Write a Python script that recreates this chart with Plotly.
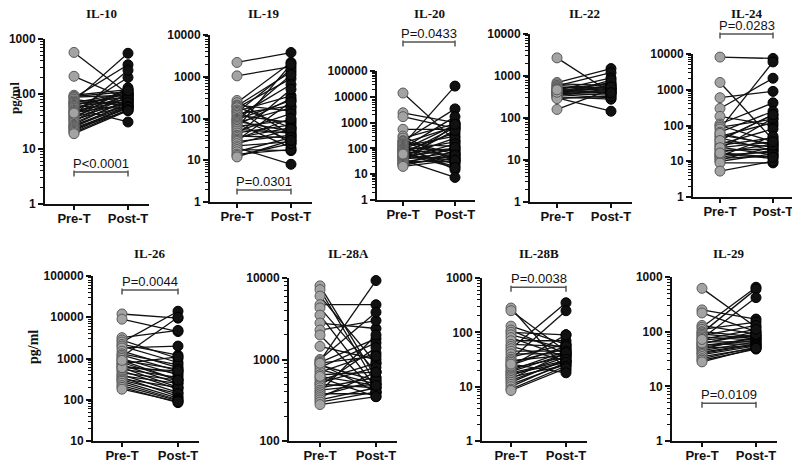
import plotly.graph_objects as go

# browser page has an 8px body margin: the figure is sized to fill the rest of the 800x461 window
PAGE_W, PAGE_H, OFF = 800, 461, 8
W, H = PAGE_W - OFF, PAGE_H - OFF

panel_names = ["IL-10", "IL-19", "IL-20", "IL-22", "IL-24", "IL-26", "IL-28A", "IL-28B", "IL-29"]
group_labels = ["Pre-T", "Post-T"]

il10_pre = [570, 210, 95, 90, 88, 85, 80, 75, 72, 70, 68, 65, 62, 60, 58, 55, 52, 50, 48, 46, 44, 42, 40, 38, 36, 35, 33, 32, 30, 28, 27, 26, 25, 24, 23, 22, 21, 20, 19, 45]
il10_post = [100, 80, 120, 110, 95, 340, 60, 550, 85, 105, 70, 90, 100, 55, 80, 31, 120, 75, 200, 65, 95, 270, 85, 70, 130, 60, 100, 90, 75, 80, 65, 60, 70, 55, 50, 60, 58, 52, 50, 115]

il19_pre = [2200, 1050, 270, 240, 210, 200, 190, 180, 160, 150, 140, 130, 120, 110, 100, 95, 90, 85, 80, 75, 70, 65, 60, 55, 50, 45, 40, 38, 35, 32, 30, 28, 25, 22, 20, 18, 16, 14, 13, 12]
il19_post = [3800, 1750, 40, 2200, 150, 1300, 60, 900, 25, 350, 1500, 200, 80, 650, 30, 270, 1100, 50, 180, 20, 300, 90, 2000, 45, 130, 70, 500, 35, 60, 100, 250, 40, 55, 28, 8, 17, 35, 18, 25, 30]

il20_pre = [14000, 2400, 1700, 550, 300, 250, 200, 190, 180, 160, 150, 140, 130, 120, 110, 100, 95, 90, 85, 80, 75, 70, 65, 60, 55, 50, 48, 45, 42, 40, 38, 35, 32, 30, 28, 26, 24, 22, 20, 60]
il20_post = [200, 1000, 600, 550, 30, 900, 60, 3400, 40, 700, 120, 26000, 15, 300, 80, 1700, 50, 800, 25, 180, 400, 20, 100, 650, 35, 250, 90, 500, 45, 150, 70, 7.5, 30, 60, 850, 40, 110, 55, 35, 18]

il22_pre = [2700, 700, 650, 600, 580, 550, 520, 500, 480, 460, 450, 430, 420, 400, 390, 380, 370, 360, 350, 340, 320, 300, 290, 160, 410, 470]
il22_post = [400, 1500, 600, 500, 1200, 450, 550, 650, 400, 900, 500, 380, 700, 450, 600, 350, 420, 300, 800, 500, 280, 145, 330, 480, 550, 400]

il24_pre = [8200, 1600, 600, 300, 180, 110, 100, 90, 80, 65, 55, 50, 45, 40, 35, 30, 28, 25, 22, 20, 18, 16, 15, 14, 13, 12, 11, 10, 9, 5.3, 60, 38, 24, 17]
il24_post = [7500, 40, 900, 2100, 100, 430, 35, 150, 6000, 250, 30, 120, 20, 200, 25, 80, 45, 15, 160, 22, 30, 12, 18, 50, 20, 14, 25, 16, 9, 10, 28, 200, 35, 13]

il26_pre = [12000, 9000, 3200, 2800, 2500, 2200, 2000, 1800, 1500, 1300, 1200, 1100, 1000, 900, 800, 750, 700, 650, 600, 550, 500, 450, 400, 380, 350, 320, 300, 280, 250, 220, 200, 180, 600, 900]
il26_post = [9500, 4500, 4800, 1000, 14000, 1200, 800, 2000, 600, 700, 500, 10000, 400, 550, 300, 1100, 250, 450, 200, 350, 180, 300, 150, 250, 120, 200, 140, 110, 100, 95, 85, 90, 500, 300]

il28a_pre = [8000, 7200, 6000, 4700, 4300, 3500, 2800, 2300, 2000, 1450, 1000, 960, 920, 880, 850, 800, 750, 700, 650, 600, 560, 520, 500, 480, 450, 420, 400, 380, 360, 340, 320, 300, 280, 900, 620]
il28a_post = [600, 500, 900, 4700, 700, 450, 2400, 3000, 400, 1000, 3800, 9300, 1800, 400, 550, 1600, 500, 1200, 700, 350, 900, 800, 450, 1400, 600, 500, 2000, 380, 550, 700, 450, 400, 350, 1100, 480]

il28b_pre = [280, 250, 130, 110, 100, 90, 80, 70, 60, 55, 50, 45, 40, 35, 32, 30, 28, 25, 22, 20, 19, 18, 17, 16, 15, 14, 13, 12, 11, 10, 9, 8.5, 24, 26]
il28b_post = [20, 45, 60, 40, 90, 50, 35, 70, 55, 30, 350, 45, 40, 60, 250, 38, 50, 55, 35, 45, 40, 30, 28, 35, 25, 42, 30, 32, 26, 28, 24, 22, 90, 18]

il29_pre = [620, 250, 220, 130, 120, 110, 100, 95, 90, 85, 80, 75, 70, 65, 60, 58, 55, 52, 50, 48, 45, 42, 40, 38, 35, 32, 30, 28, 62, 72]
il29_post = [120, 170, 100, 90, 650, 150, 80, 600, 75, 130, 70, 420, 85, 65, 100, 60, 75, 70, 55, 80, 65, 60, 58, 55, 50, 52, 48, 50, 90, 110]

pre_values = [il10_pre, il19_pre, il20_pre, il22_pre, il24_pre, il26_pre, il28a_pre, il28b_pre, il29_pre]
post_values = [il10_post, il19_post, il20_post, il22_post, il24_post, il26_post, il28a_post, il28b_post, il29_post]

p_texts = ["P<0.0001", "P=0.0301", "P=0.0433", None, "P=0.0283", "P=0.0044", None, "P=0.0038", "P=0.0109"]

# layout geometry (page pixels): axis left, pre x, post x, axis top, axis bottom, log range, bracket level (log10)
geom = [
    dict(left=45, pre=74, post=128, top=39, bottom=204, lo=0, hi=3, pb=0.58),
    dict(left=210, pre=237, post=291, top=35, bottom=202, lo=0, hi=4, pb=0.29),
    dict(left=377, pre=403, post=455, top=71, bottom=200, lo=0, hi=5, pb=6.12),
    dict(left=530, pre=557, post=611, top=34, bottom=202, lo=0, hi=4, pb=None),
    dict(left=693, pre=720, post=773, top=54, bottom=197, lo=0, hi=4, pb=4.56),
    dict(left=93, pre=122, post=178, top=276, bottom=441, lo=1, hi=5, pb=4.66),
    dict(left=289, pre=320, post=376, top=278, bottom=441, lo=2, hi=4, pb=None),
    dict(left=482, pre=511, post=566, top=278, bottom=441, lo=0, hi=3, pb=2.83),
    dict(left=672, pre=702, post=756, top=277, bottom=441, lo=0, hi=3, pb=0.69),
]
title_y_px = [13, 13, 13, 13, 13, 253, 253, 253, 253]
XR1 = 1.38


def fx(px):
    return (px - OFF) / W


def fy(py):
    return 1 - (py - OFF) / H


SANS = "Liberation Sans, Arial, sans-serif"
SERIF = "Liberation Serif, Times New Roman, serif"
INK = "#111111"
BRK = "#555555"

fig = go.Figure()
annotations = []
shapes = []
layout_axes = {}

for i, name in enumerate(panel_names):
    g = geom[i]
    n = "" if i == 0 else str(i + 1)
    xa, ya = "x" + n, "y" + n
    s = g["post"] - g["pre"]
    xr0 = -(g["pre"] - g["left"]) / s
    xd = [fx(g["left"]), min(1.0, fx(g["pre"] + XR1 * s))]
    yd = [fy(g["bottom"]), fy(g["top"])]

    pre, post = pre_values[i], post_values[i]
    lx, ly = [], []
    for a, b in zip(pre, post):
        lx += [0, 1, None]
        ly += [a, b, None]
    fig.add_trace(go.Scatter(x=lx, y=ly, mode="lines", xaxis=xa, yaxis=ya,
                             line=dict(color=INK, width=1.3), cliponaxis=False,
                             hoverinfo="skip", showlegend=False))
    fig.add_trace(go.Scatter(x=[0] * len(pre), y=pre, mode="markers", xaxis=xa, yaxis=ya,
                             marker=dict(size=10, color="#a3a3a3", line=dict(color="#5a5a5a", width=1)),
                             cliponaxis=False, showlegend=False))
    fig.add_trace(go.Scatter(x=[1] * len(post), y=post, mode="markers", xaxis=xa, yaxis=ya,
                             marker=dict(size=10, color=INK, line=dict(color="#000000", width=1)),
                             cliponaxis=False, showlegend=False))

    if p_texts[i]:
        dx0 = (0 - xr0) / (XR1 - xr0)
        dx1 = (1 - xr0) / (XR1 - xr0)
        dy = (g["pb"] - g["lo"]) / (g["hi"] - g["lo"])
        span = g["bottom"] - g["top"]
        xdr, ydr = xa + " domain", ya + " domain"
        shapes.append(dict(type="line", xref=xdr, yref=ydr, x0=dx0, x1=dx1, y0=dy, y1=dy,
                           line=dict(color=BRK, width=1.5)))
        for dxe in (dx0, dx1):
            shapes.append(dict(type="line", xref=xdr, yref=ydr, x0=dxe, x1=dxe,
                               y0=dy - 4.5 / span, y1=dy + 1.5 / span,
                               line=dict(color=BRK, width=1.5)))
        annotations.append(dict(x=(dx0 + dx1) / 2, y=dy, xref=xdr, yref=ydr, text=p_texts[i],
                                showarrow=False, xanchor="center", yanchor="bottom", yshift=-1,
                                font=dict(family=SANS, size=13, color=INK)))

    annotations.append(dict(x=fx((g["pre"] + g["post"]) / 2), y=fy(title_y_px[i]),
                            xref="paper", yref="paper", text=name, showarrow=False,
                            xanchor="center", yanchor="middle",
                            font=dict(family=SERIF, size=13, color=INK, weight="bold")))

    major = [10 ** k for k in range(g["lo"], g["hi"] + 1)]
    minor = [m * 10 ** k for k in range(g["lo"], g["hi"]) for m in range(2, 10)]
    layout_axes["xaxis" + n] = dict(domain=xd, anchor=ya, range=[xr0, XR1], tickmode="array",
                                    tickvals=[0, 1], ticktext=group_labels, showline=True,
                                    linecolor=INK, linewidth=2, ticks="outside", ticklen=4,
                                    tickwidth=2, tickcolor=INK, showgrid=False, zeroline=False,
                                    automargin=False, ticklabelstandoff=-3,
                                    tickfont=dict(family=SANS, size=13, color=INK, weight="bold"))
    layout_axes["yaxis" + n] = dict(domain=yd, anchor=xa, type="log", range=[g["lo"], g["hi"]],
                                    tickmode="array", tickvals=major, ticktext=[str(v) for v in major],
                                    showline=True, linecolor=INK, linewidth=2, ticks="outside",
                                    ticklen=5, tickwidth=2, tickcolor=INK, showgrid=False,
                                    zeroline=False, automargin=False,
                                    minor=dict(tickmode="array", tickvals=minor, ticks="outside",
                                               ticklen=3, tickwidth=1, tickcolor=INK, showgrid=False),
                                    tickfont=dict(family=SANS, size=12, color=INK, weight="bold"))

for (px, py, sz) in [(14, 98, 13), (33, 347, 14)]:
    annotations.append(dict(x=fx(px), y=fy(py), xref="paper", yref="paper", text="pg/ml",
                            textangle=-90, showarrow=False, xanchor="center", yanchor="middle",
                            font=dict(family=SERIF, size=sz, color=INK, weight="bold")))

fig.update_layout(width=W, height=H, margin=dict(l=0, r=0, t=0, b=0),
                  paper_bgcolor="white", plot_bgcolor="white", template="none",
                  annotations=annotations, shapes=shapes, showlegend=False, **layout_axes)

fig.write_html("out.html")
